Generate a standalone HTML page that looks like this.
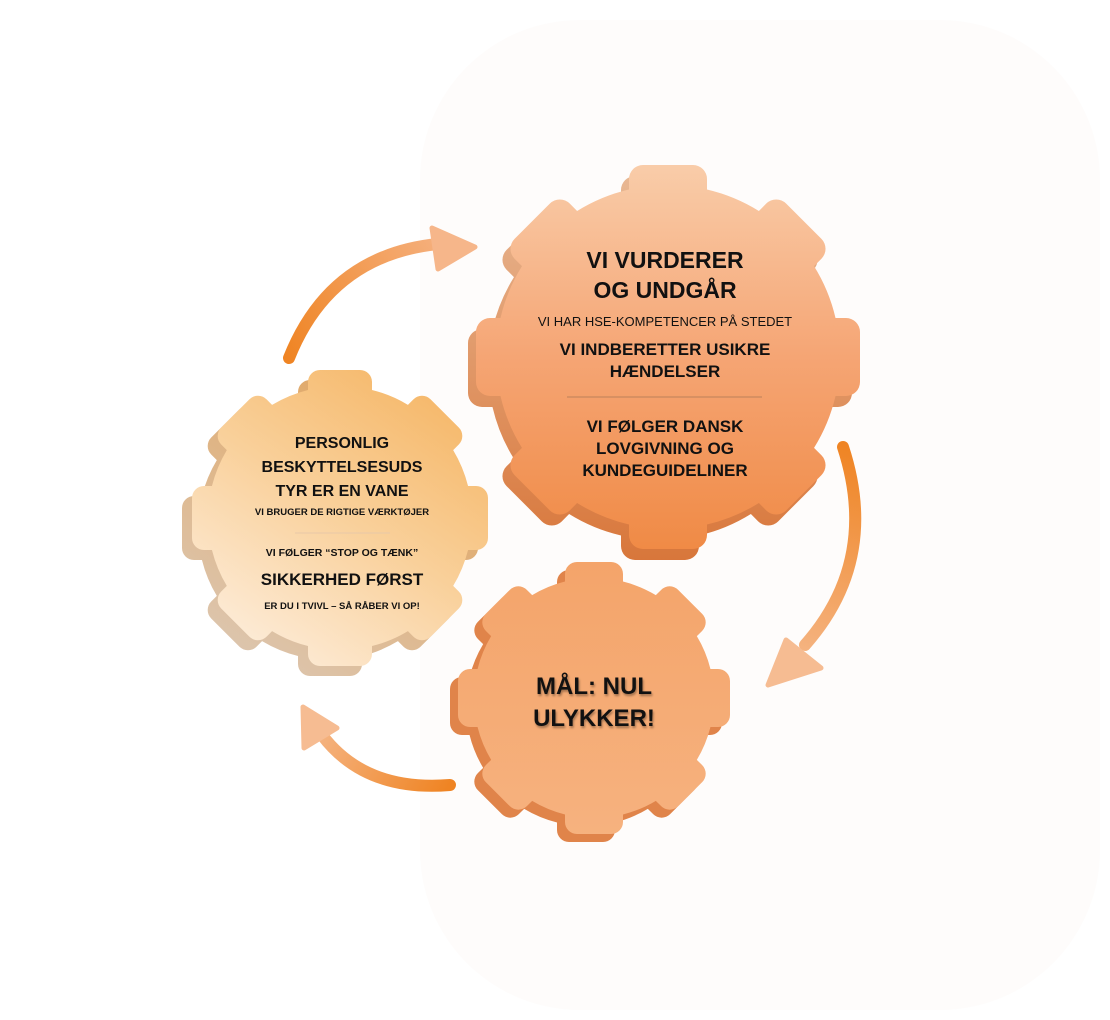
<!DOCTYPE html>
<html><head><meta charset="utf-8"><style>
html,body{margin:0;padding:0;background:#fff;}
svg{display:block;}
text{font-family:"Liberation Sans",sans-serif;font-weight:bold;fill:#111;text-anchor:middle;}
</style></head><body>
<svg width="1110" height="1020" viewBox="0 0 1110 1020" xmlns="http://www.w3.org/2000/svg">
<defs>
  <clipPath id="gBig">
    <circle cx="0" cy="0" r="172"/>
    <rect x="-39" y="-192" width="78" height="192" rx="14"/>
    <rect x="-39" y="-192" width="78" height="192" rx="14" transform="rotate(45)"/>
    <rect x="-39" y="-192" width="78" height="192" rx="14" transform="rotate(90)"/>
    <rect x="-39" y="-192" width="78" height="192" rx="14" transform="rotate(135)"/>
    <rect x="-39" y="-192" width="78" height="192" rx="14" transform="rotate(180)"/>
    <rect x="-39" y="-192" width="78" height="192" rx="14" transform="rotate(225)"/>
    <rect x="-39" y="-192" width="78" height="192" rx="14" transform="rotate(270)"/>
    <rect x="-39" y="-192" width="78" height="192" rx="14" transform="rotate(315)"/>
  </clipPath>
  <clipPath id="gLeft">
    <circle cx="0" cy="0" r="132"/>
    <rect x="-32" y="-148" width="64" height="148" rx="12"/>
    <rect x="-32" y="-148" width="64" height="148" rx="12" transform="rotate(45)"/>
    <rect x="-32" y="-148" width="64" height="148" rx="12" transform="rotate(90)"/>
    <rect x="-32" y="-148" width="64" height="148" rx="12" transform="rotate(135)"/>
    <rect x="-32" y="-148" width="64" height="148" rx="12" transform="rotate(180)"/>
    <rect x="-32" y="-148" width="64" height="148" rx="12" transform="rotate(225)"/>
    <rect x="-32" y="-148" width="64" height="148" rx="12" transform="rotate(270)"/>
    <rect x="-32" y="-148" width="64" height="148" rx="12" transform="rotate(315)"/>
  </clipPath>
  <clipPath id="gBot">
    <circle cx="0" cy="0" r="120"/>
    <rect x="-29" y="-136" width="58" height="136" rx="12"/>
    <rect x="-29" y="-136" width="58" height="136" rx="12" transform="rotate(45)"/>
    <rect x="-29" y="-136" width="58" height="136" rx="12" transform="rotate(90)"/>
    <rect x="-29" y="-136" width="58" height="136" rx="12" transform="rotate(135)"/>
    <rect x="-29" y="-136" width="58" height="136" rx="12" transform="rotate(180)"/>
    <rect x="-29" y="-136" width="58" height="136" rx="12" transform="rotate(225)"/>
    <rect x="-29" y="-136" width="58" height="136" rx="12" transform="rotate(270)"/>
    <rect x="-29" y="-136" width="58" height="136" rx="12" transform="rotate(315)"/>
  </clipPath>
  <linearGradient id="bigF" gradientUnits="userSpaceOnUse" x1="0" y1="-195" x2="0" y2="195"><stop offset="0" stop-color="#f9cdaa"/><stop offset="0.5" stop-color="#f5a574"/><stop offset="1" stop-color="#f08a45"/></linearGradient>
  <linearGradient id="bigS" gradientUnits="userSpaceOnUse" x1="0" y1="-195" x2="0" y2="195"><stop offset="0" stop-color="#e8b894"/><stop offset="1" stop-color="#d8763a"/></linearGradient>
  <linearGradient id="leftF" gradientUnits="userSpaceOnUse" x1="110" y1="-150" x2="-90" y2="150"><stop offset="0" stop-color="#f5b462"/><stop offset="0.5" stop-color="#f9d09a"/><stop offset="1" stop-color="#fdeedd"/></linearGradient>
  <linearGradient id="leftS" gradientUnits="userSpaceOnUse" x1="110" y1="-150" x2="-90" y2="150"><stop offset="0" stop-color="#e2a35a"/><stop offset="1" stop-color="#dcc7b2"/></linearGradient>
  <linearGradient id="botF" gradientUnits="userSpaceOnUse" x1="0" y1="-140" x2="0" y2="140"><stop offset="0" stop-color="#f4a46a"/><stop offset="1" stop-color="#f6b27f"/></linearGradient>
  <linearGradient id="a1" gradientUnits="userSpaceOnUse" x1="288" y1="360" x2="475" y2="245"><stop offset="0" stop-color="#ef8423"/><stop offset="1" stop-color="#f6b68a"/></linearGradient>
  <linearGradient id="a2" gradientUnits="userSpaceOnUse" x1="845" y1="445" x2="770" y2="685"><stop offset="0" stop-color="#ef8423"/><stop offset="1" stop-color="#f6bc92"/></linearGradient>
  <linearGradient id="a3" gradientUnits="userSpaceOnUse" x1="450" y1="785" x2="305" y2="705"><stop offset="0" stop-color="#ef8423"/><stop offset="1" stop-color="#f6bc92"/></linearGradient>
</defs>
<rect width="1110" height="1020" fill="#fff"/>
<rect x="420" y="20" width="680" height="990" rx="160" fill="#fdfaf8" opacity="0.6"/>

<!-- arrows -->
<path d="M289,358 Q330,255 438,244" fill="none" stroke="url(#a1)" stroke-width="12" stroke-linecap="round"/>
<path d="M432,228 L475,247 L438,269 Z" fill="#f6b68a" stroke="#f6b68a" stroke-width="5" stroke-linejoin="round"/>
<path d="M843,447 Q880,560 805,645" fill="none" stroke="url(#a2)" stroke-width="12" stroke-linecap="round"/>
<path d="M786,640 L768,685 L821,668 Z" fill="#f6bc92" stroke="#f6bc92" stroke-width="5" stroke-linejoin="round"/>
<path d="M450,785 Q365,792 322,735" fill="none" stroke="url(#a3)" stroke-width="12" stroke-linecap="round"/>
<path d="M303,707 L304,748 L337,728 Z" fill="#f6bc92" stroke="#f6bc92" stroke-width="5" stroke-linejoin="round"/>

<!-- big gear -->
<g transform="translate(660,368)"><rect x="-200" y="-200" width="400" height="400" fill="url(#bigS)" clip-path="url(#gBig)"/></g>
<g transform="translate(668,357)"><rect x="-200" y="-200" width="400" height="400" fill="url(#bigF)" clip-path="url(#gBig)"/></g>

<!-- left gear -->
<g transform="translate(330,528)"><rect x="-160" y="-160" width="320" height="320" fill="url(#leftS)" clip-path="url(#gLeft)"/></g>
<g transform="translate(340,518)"><rect x="-160" y="-160" width="320" height="320" fill="url(#leftF)" clip-path="url(#gLeft)"/></g>

<!-- bottom gear -->
<g transform="translate(586,706)"><rect x="-150" y="-150" width="300" height="300" fill="#e0844a" clip-path="url(#gBot)"/></g>
<g transform="translate(594,698)"><rect x="-150" y="-150" width="300" height="300" fill="url(#botF)" clip-path="url(#gBot)"/></g>

<!-- big gear text -->
<text x="665" y="268" font-size="23">VI VURDERER</text>
<text x="665" y="298" font-size="23">OG UNDGÅR</text>
<text x="665" y="326" font-size="13" style="font-weight:normal">VI HAR HSE-KOMPETENCER PÅ STEDET</text>
<text x="665" y="355" font-size="17">VI INDBERETTER USIKRE</text>
<text x="665" y="377" font-size="17">HÆNDELSER</text>
<line x1="567" y1="397" x2="762" y2="397" stroke="#c8875e" stroke-width="1.2"/>
<text x="665" y="432" font-size="17">VI FØLGER DANSK</text>
<text x="665" y="454" font-size="17">LOVGIVNING OG</text>
<text x="665" y="476" font-size="17">KUNDEGUIDELINER</text>

<!-- left gear text -->
<text x="342" y="448" font-size="16">PERSONLIG</text>
<text x="342" y="472" font-size="16">BESKYTTELSESUDS</text>
<text x="342" y="496" font-size="16">TYR ER EN VANE</text>
<text x="342" y="515" font-size="9.5">VI BRUGER DE RIGTIGE VÆRKTØJER</text>
<line x1="295" y1="533" x2="390" y2="533" stroke="#e8c8a8" stroke-width="1"/>
<text x="342" y="556" font-size="10.5">VI FØLGER “STOP OG TÆNK”</text>
<text x="342" y="585" font-size="17">SIKKERHED FØRST</text>
<text x="342" y="609" font-size="9.5">ER DU I TVIVL – SÅ RÅBER VI OP!</text>

<!-- bottom gear text -->
<g style="filter:drop-shadow(1px 2px 1px rgba(0,0,0,0.35))">
<text x="594" y="694" font-size="24">MÅL: NUL</text>
<text x="594" y="726" font-size="24">ULYKKER!</text>
</g>
</svg>
</body></html>
